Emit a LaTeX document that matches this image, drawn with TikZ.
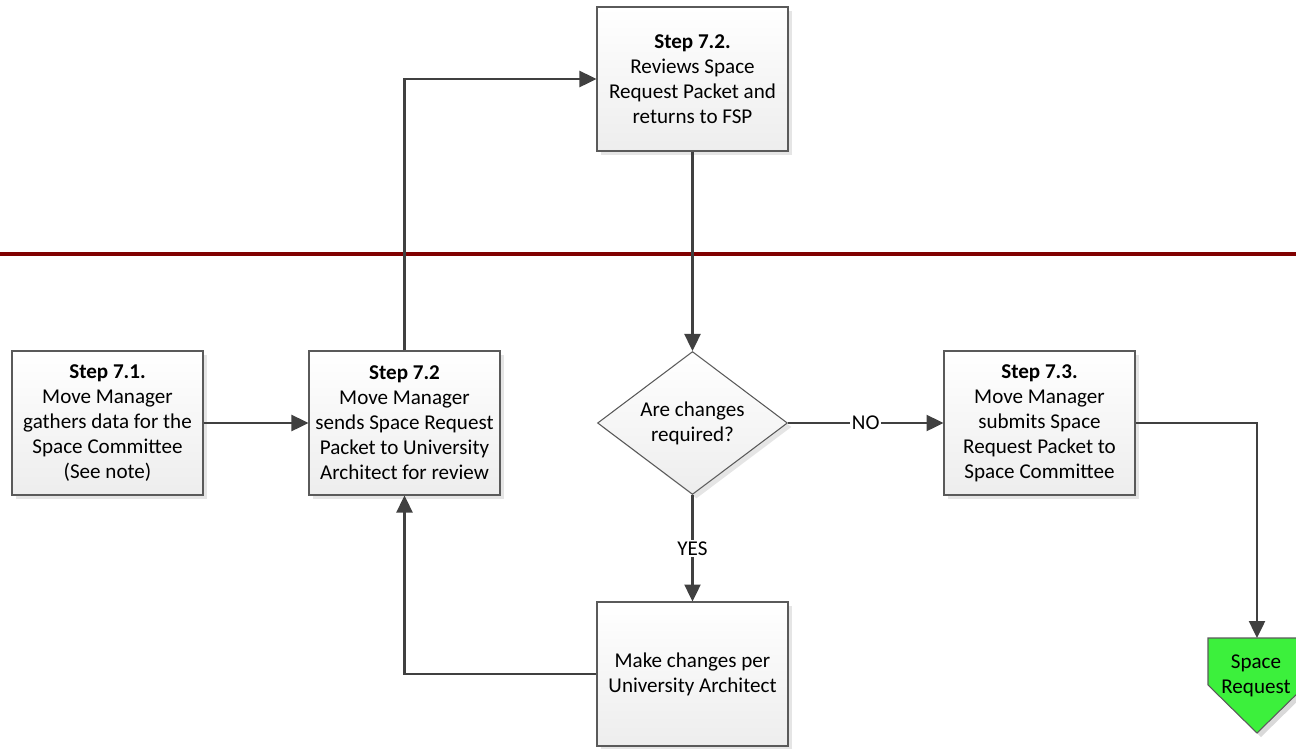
\documentclass[tikz,border=0pt]{standalone}
\usepackage{fontspec}
\setmainfont{Carlito}
\usepackage{tikz}
\usetikzlibrary{arrows.meta,shapes.geometric,shadows}
\definecolor{flowgray}{HTML}{404040}
\definecolor{boxgray}{HTML}{5A5A5A}
\definecolor{lanered}{HTML}{800000}
\definecolor{pagegreen}{HTML}{3CF03C}
\tikzset{
  stepbox/.style={rectangle, draw=boxgray, line width=0.6pt, top color=white, bottom color=gray!14,
    minimum width=3.82cm, minimum height=2.88cm, inner sep=0pt, align=center,
    drop shadow={shadow xshift=0.08cm, shadow yshift=-0.08cm, fill=gray!40, opacity=0.5},
    font=\fontsize{12}{14.2}\selectfont},
  decision/.style={diamond, draw=boxgray, line width=0.6pt, top color=white, bottom color=gray!14,
    minimum width=3.8cm, minimum height=2.86cm, inner sep=0pt, aspect=1.33, align=center,
    drop shadow={shadow xshift=0.08cm, shadow yshift=-0.08cm, fill=gray!40, opacity=0.5},
    font=\fontsize{12}{14.2}\selectfont},
  flow/.style={draw=flowgray, line width=1.4pt, -{Triangle[length=0.34cm, width=0.32cm]}},
  lbl/.style={fill=white, inner sep=1pt, font=\fontsize{12}{14.2}\selectfont},
  lane/.style={draw=lanered, line width=0.08cm}
}

\begin{document}
\begin{tikzpicture}[x=0.02cm, y=-0.02cm]
  \useasboundingbox (0,0) rectangle (1296,748);
  \draw[lane] (0,254) -- (1296,254);
  % process boxes
  \node[stepbox] (s71) at (107.5,423) {\textbf{Step 7.1.}\\Move Manager\\gathers data for the\\Space Committee\\(See note)};
  \node[stepbox] (s72) at (404.5,423) {\textbf{Step 7.2}\\Move Manager\\sends Space Request\\Packet to University\\Architect for review};
  \node[stepbox] (rev) at (692.5,79) {\textbf{Step 7.2.}\\Reviews Space\\Request Packet and\\returns to FSP};
  \node[decision] (dec) at (692.5,423) {Are changes\\required?};
  \node[stepbox] (s73) at (1039.5,423) {\textbf{Step 7.3.}\\Move Manager\\submits Space\\Request Packet to\\Space Committee};
  \node[stepbox] (mk) at (692.5,674) {Make changes per\\University Architect};
  % off-page connector
  \coordinate (offtop) at (1257,638);
  \fill[gray!30] (1212,642) -- (1310,642) -- (1310,689) -- (1261,737) -- (1212,689) -- cycle;
  \draw[fill=pagegreen, draw=boxgray, line width=0.6pt] (1208,638) -- (1306,638) -- (1306,685) -- (1257,733) -- (1208,685) -- cycle;
  \node[align=center, font=\fontsize{12}{14.2}\selectfont] (sreq) at (1256,676) {Space\\Request};
  % connectors
  \draw[flow] (s71) -- (s72);
  \draw[flow] (s72.north) |- (rev.west);
  \draw[flow] (rev) -- (dec);
  \draw[flow] (dec) -- node[lbl] {NO} (s73);
  \draw[flow] (dec) -- node[lbl] {YES} (mk);
  \draw[flow] (mk.west) -| (s72.south);
  \draw[flow] (s73.east) -| (offtop);
\end{tikzpicture}
\end{document}
